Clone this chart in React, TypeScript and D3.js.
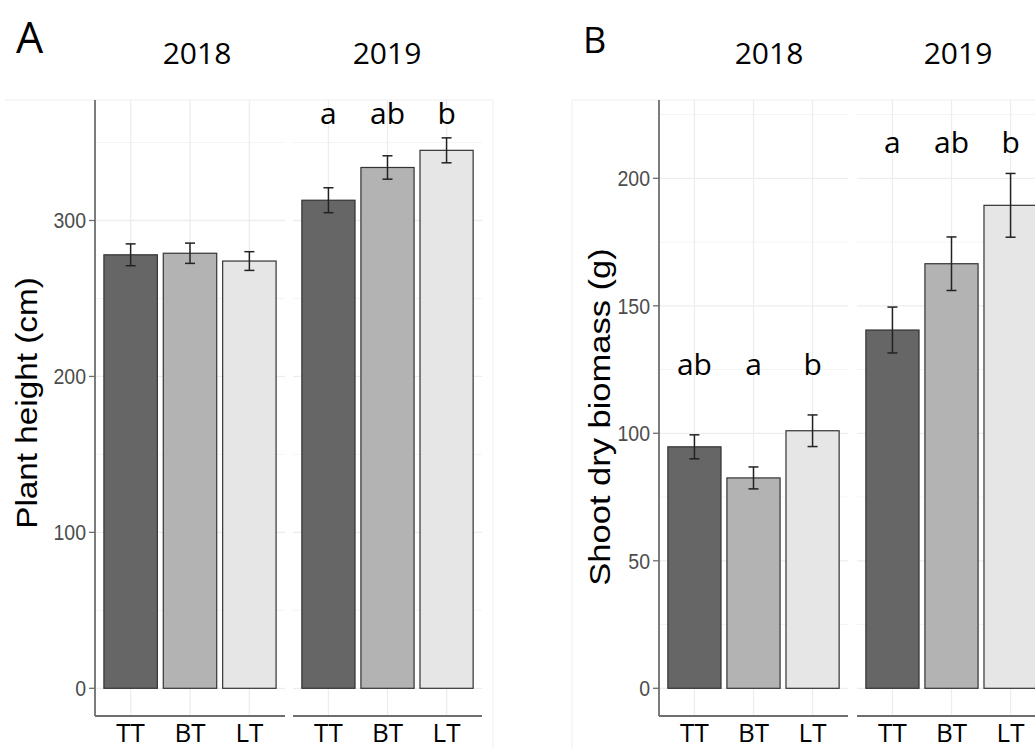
import React from 'react';
import * as d3 from 'd3';

// ---------- data ----------
const treatments = ['TT', 'BT', 'LT'];
const years = ['2018', '2019'];

const heightMean2018 = [278, 279, 274];
const heightSE2018 = [7, 6.5, 6];
const heightMean2019 = [313, 334, 345];
const heightSE2019 = [8, 7.5, 8];
const heightLetters2018: string[] = [];
const heightLetters2019 = ['a', 'ab', 'b'];
const heightTicks = [0, 100, 200, 300];

const biomassMean2018 = [94.7, 82.5, 101];
const biomassSE2018 = [4.7, 4.3, 6.2];
const biomassMean2019 = [140.5, 166.5, 189.4];
const biomassSE2019 = [9, 10.5, 12.5];
const biomassLetters2018 = ['ab', 'a', 'b'];
const biomassLetters2019 = ['a', 'ab', 'b'];
const biomassTicks = [0, 50, 100, 150, 200];

// letter heights in data units per year facet
const heightLetterY = [0, 362];
const biomassLetterY = [123, 210];

const fills = ['#666666', '#b3b3b3', '#e6e6e6'];

const W = 1035;
const H = 749;
const LABEL_FONT = "'Open Sans', 'Lato', sans-serif";
const AXIS_FONT = "'Liberation Sans', Arial, sans-serif";

type Facet = { x0: number; x1: number; means: number[]; se: number[]; letters: string[]; letterY: number; yearX: number; tickLabelY: number };

type ChartCfg = {
  tag: string;
  tagX: number;
  tagSize: number;
  axisX: number;
  ticks: number[];
  yPix: [number, number];
  title: string;
  titleX: number;
  titleY: number;
  titleStretch: number;
  facets: Facet[];
  border: { x0: number; x1: number };
};

const charts: ChartCfg[] = [
  {
    tag: 'A', tagX: 16, tagSize: 43,
    axisX: 95,
    ticks: heightTicks,
    yPix: [688.3, 220.5],
    title: 'Plant height (cm)', titleX: 37, titleY: 403, titleStretch: 1.11,
    facets: [
      { x0: 95, x1: 285, means: heightMean2018, se: heightSE2018, letters: heightLetters2018, letterY: heightLetterY[0], yearX: 197, tickLabelY: 742 },
      { x0: 293, x1: 482, means: heightMean2019, se: heightSE2019, letters: heightLetters2019, letterY: heightLetterY[1], yearX: 387, tickLabelY: 742 },
    ],
    border: { x0: 5, x1: 493 },
  },
  {
    tag: 'B', tagX: 583, tagSize: 36,
    axisX: 659,
    ticks: biomassTicks,
    yPix: [688.3, 178.3],
    title: 'Shoot dry biomass (g)', titleX: 610, titleY: 417, titleStretch: 1.15,
    facets: [
      { x0: 659, x1: 848, means: biomassMean2018, se: biomassSE2018, letters: biomassLetters2018, letterY: biomassLetterY[0], yearX: 769, tickLabelY: 742 },
      { x0: 857, x1: 1046, means: biomassMean2019, se: biomassSE2019, letters: biomassLetters2019, letterY: biomassLetterY[1], yearX: 958, tickLabelY: 742 },
    ],
    border: { x0: 572, x1: 1040 },
  },
];

const PANEL_TOP = 100;
const PANEL_BOTTOM = 716;

function Chart({ cfg }: { cfg: ChartCfg }) {
  const y = d3.scaleLinear().domain([0, cfg.ticks[cfg.ticks.length - 1]]).range(cfg.yPix);
  const step = cfg.ticks[1] - cfg.ticks[0];
  const minor: number[] = [];
  for (let i = 0; i < cfg.ticks.length; i++) {
    const m = cfg.ticks[i] + step / 2;
    if (y(m) > PANEL_TOP) minor.push(m);
  }
  return (
    <g>
      {/* faint figure border */}
      <line x1={cfg.border.x0} x2={cfg.border.x1} y1={PANEL_TOP} y2={PANEL_TOP} stroke="#eeeeee" strokeWidth={1} />
      {cfg.tag === 'A' ? (
        <line x1={cfg.border.x1} x2={cfg.border.x1} y1={PANEL_TOP} y2={H} stroke="#eeeeee" strokeWidth={1} />
      ) : (
        <line x1={cfg.border.x0} x2={cfg.border.x0} y1={PANEL_TOP} y2={H} stroke="#eeeeee" strokeWidth={1} />
      )}
      <text x={cfg.tagX} y={53} fontFamily={LABEL_FONT} fontSize={cfg.tagSize} fill="#000">{cfg.tag}</text>
      {cfg.facets.map((f, fi) => {
        const x = d3.scaleBand<string>().domain(treatments).range([f.x0, f.x1]).paddingInner(0.1).paddingOuter(0.15);
        const bw = x.bandwidth();
        return (
          <g key={fi}>
            {/* grid */}
            {minor.map((v) => (
              <line key={'mi' + v} x1={f.x0} x2={f.x1} y1={y(v)} y2={y(v)} stroke="#f4f4f4" strokeWidth={1} />
            ))}
            {cfg.ticks.map((v) => (
              <line key={'ma' + v} x1={f.x0} x2={f.x1} y1={y(v)} y2={y(v)} stroke="#ededed" strokeWidth={1.3} />
            ))}
            {treatments.map((t) => (
              <line key={'v' + t} x1={(x(t) as number) + bw / 2} x2={(x(t) as number) + bw / 2} y1={PANEL_TOP} y2={PANEL_BOTTOM} stroke="#ededed" strokeWidth={1.3} />
            ))}
            {/* bars */}
            {treatments.map((t, i) => (
              <rect key={'b' + t} x={x(t) as number} width={bw} y={y(f.means[i])} height={y(0) - y(f.means[i])} fill={fills[i]} stroke="#333333" strokeWidth={1.2} />
            ))}
            {/* error bars */}
            {treatments.map((t, i) => {
              const cx = (x(t) as number) + bw / 2;
              const hi = y(f.means[i] + f.se[i]);
              const lo = y(f.means[i] - f.se[i]);
              return (
                <g key={'e' + t} stroke="#222" strokeWidth={1.5}>
                  <line x1={cx} x2={cx} y1={hi} y2={lo} />
                  <line x1={cx - 5} x2={cx + 5} y1={hi} y2={hi} />
                  <line x1={cx - 5} x2={cx + 5} y1={lo} y2={lo} />
                </g>
              );
            })}
            {/* letters */}
            {f.letters.map((l, i) => (
              <text key={'l' + i} x={(x(treatments[i]) as number) + bw / 2} y={y(f.letterY)} textAnchor="middle" fontFamily={LABEL_FONT} fontSize={30} fill="#000">{l}</text>
            ))}
            {/* x axis line */}
            <line x1={f.x0} x2={f.x1} y1={PANEL_BOTTOM} y2={PANEL_BOTTOM} stroke="#6e6e6e" strokeWidth={1.8} />
            {/* x tick labels */}
            {treatments.map((t) => (
              <text key={'xt' + t} x={(x(t) as number) + bw / 2} y={f.tickLabelY} textAnchor="middle" fontFamily={LABEL_FONT} fontSize={26} fill="#000">{t}</text>
            ))}
            {/* year strip */}
            <text x={f.yearX} y={64} textAnchor="middle" fontFamily={LABEL_FONT} fontSize={30} fill="#000">{years[fi]}</text>
          </g>
        );
      })}
      {/* y axis */}
      <line x1={cfg.axisX} x2={cfg.axisX} y1={PANEL_TOP} y2={PANEL_BOTTOM} stroke="#6e6e6e" strokeWidth={1.8} />
      {cfg.ticks.map((v) => (
        <g key={'yt' + v}>
          <line x1={cfg.axisX - 6} x2={cfg.axisX} y1={y(v)} y2={y(v)} stroke="#6e6e6e" strokeWidth={1.3} />
          <text transform={`translate(${cfg.axisX - 9},${y(v)}) scale(1,1.13)`} dy="0.36em" textAnchor="end" fontFamily={AXIS_FONT} fontSize={19.5} fill="#4d4d4d">{v}</text>
        </g>
      ))}
      <text transform={`translate(${cfg.titleX},${cfg.titleY}) rotate(-90) scale(${cfg.titleStretch},1)`} textAnchor="middle" fontFamily={AXIS_FONT} fontSize={30} fill="#000">{cfg.title}</text>
    </g>
  );
}

export default function App() {
  return (
    <svg width={W} height={H} viewBox={`0 0 ${W} ${H}`} style={{ position: 'absolute', left: 0, top: 0, background: '#fff' }}>
      <rect x={0} y={0} width={W} height={H} fill="#fff" />
      {charts.map((c) => (
        <Chart key={c.tag} cfg={c} />
      ))}
    </svg>
  );
}
